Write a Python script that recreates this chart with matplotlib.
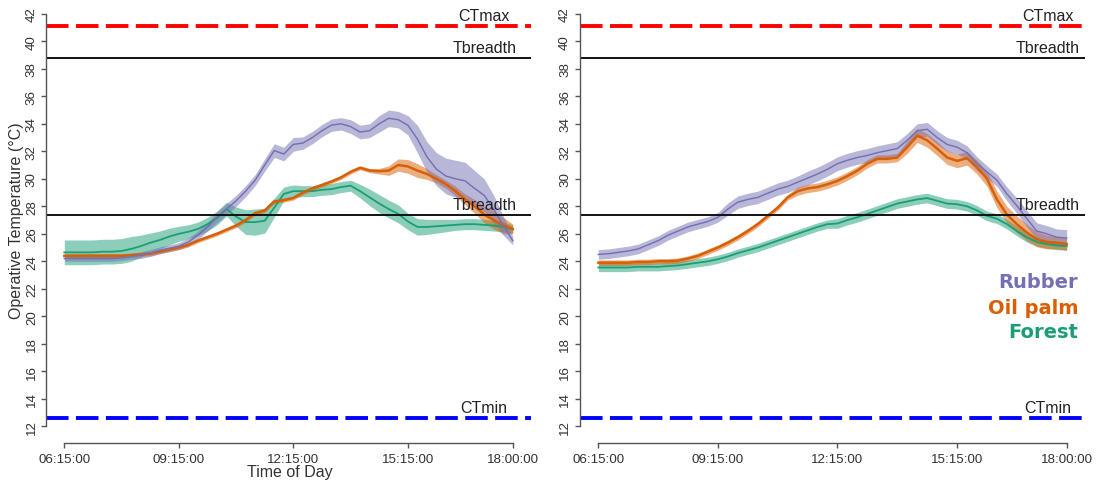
import numpy as np
import matplotlib
matplotlib.use("Agg")
import matplotlib.pyplot as plt

plt.rcParams['font.family'] = ['Liberation Sans', 'DejaVu Sans']

# time of day in hours, 15-minute steps from 06:15 to 18:00
hours = np.arange(6.25, 18.0001, 0.25)

# ---- left panel: mean operative temperature and ribbon half-width ----
left_rubber = [24.2, 24.2, 24.2, 24.2, 24.2, 24.2, 24.25, 24.35, 24.45, 24.6, 24.8, 24.95,
               25.1, 25.4, 25.9, 26.5, 27.2, 27.8, 28.4, 29.1, 29.9, 31.0, 32.05, 31.8,
               32.5, 32.6, 33.0, 33.5, 33.9, 34.0, 33.8, 33.4, 33.5, 34.0, 34.4, 34.3,
               33.9, 32.9, 31.6, 30.7, 30.2, 30.0, 29.85, 29.3, 28.8, 27.8, 26.6, 25.5]
left_rubber_se = [0.2, 0.2, 0.2, 0.2, 0.2, 0.2, 0.2, 0.2, 0.25, 0.25, 0.25, 0.25,
                  0.25, 0.3, 0.3, 0.3, 0.4, 0.4, 0.4, 0.4, 0.4, 0.45, 0.5, 0.5,
                  0.5, 0.45, 0.45, 0.45, 0.45, 0.45, 0.5, 0.5, 0.5, 0.6, 0.6, 0.6,
                  0.7, 1.0, 1.1, 1.2, 1.3, 1.35, 1.35, 1.3, 1.2, 1.0, 0.7, 0.3]
left_oil = [24.4, 24.4, 24.4, 24.4, 24.4, 24.4, 24.4, 24.45, 24.5, 24.55, 24.7, 24.85,
            25.0, 25.2, 25.5, 25.75, 26.0, 26.3, 26.6, 27.0, 27.5, 27.7, 28.35, 28.45,
            28.6, 29.0, 29.3, 29.55, 29.8, 30.1, 30.5, 30.8, 30.6, 30.55, 30.6, 31.0,
            30.9, 30.6, 30.35, 30.0, 29.6, 29.1, 28.5, 28.0, 27.4, 27.0, 26.6, 26.35]
left_oil_se = [0.15, 0.15, 0.15, 0.15, 0.15, 0.15, 0.15, 0.15, 0.15, 0.15, 0.15, 0.15,
               0.15, 0.15, 0.15, 0.15, 0.15, 0.15, 0.15, 0.15, 0.15, 0.15, 0.15, 0.15,
               0.15, 0.15, 0.15, 0.15, 0.15, 0.15, 0.15, 0.15, 0.15, 0.2, 0.35, 0.45,
               0.5, 0.5, 0.4, 0.3, 0.3, 0.35, 0.4, 0.5, 0.6, 0.65, 0.6, 0.35]
left_forest = [24.65, 24.65, 24.65, 24.65, 24.7, 24.7, 24.75, 24.9, 25.1, 25.35, 25.55, 25.8,
               26.0, 26.15, 26.35, 26.7, 27.15, 27.8, 27.25, 26.85, 26.85, 26.95, 27.9, 28.9,
               29.1, 29.1, 29.1, 29.2, 29.25, 29.4, 29.5, 29.1, 28.65, 28.2, 27.8, 27.45,
               26.9, 26.5, 26.5, 26.55, 26.6, 26.65, 26.7, 26.7, 26.65, 26.6, 26.5, 26.35]
left_forest_se = [0.9, 0.9, 0.9, 0.9, 0.9, 0.9, 0.9, 0.9, 0.8, 0.7, 0.65, 0.6,
                  0.55, 0.5, 0.5, 0.5, 0.5, 0.5, 0.7, 0.9, 0.95, 0.9, 0.7, 0.5,
                  0.45, 0.4, 0.4, 0.4, 0.4, 0.4, 0.4, 0.5, 0.6, 0.65, 0.65, 0.65,
                  0.6, 0.6, 0.55, 0.5, 0.45, 0.4, 0.4, 0.4, 0.4, 0.4, 0.35, 0.3]

# ---- right panel ----
right_rubber = [24.5, 24.55, 24.65, 24.75, 24.9, 25.2, 25.5, 25.9, 26.2, 26.5, 26.7, 26.9,
                27.2, 27.8, 28.3, 28.5, 28.65, 28.95, 29.25, 29.45, 29.75, 30.05, 30.35, 30.7,
                31.1, 31.35, 31.55, 31.7, 31.9, 32.05, 32.2, 32.8, 33.5, 33.6, 33.0, 32.5,
                32.3, 31.9, 31.1, 30.5, 29.9, 28.9, 28.05, 27.1, 26.2, 26.0, 25.75, 25.7]
right_rubber_se = [0.35, 0.35, 0.35, 0.35, 0.35, 0.35, 0.35, 0.35, 0.35, 0.35, 0.35, 0.35,
                   0.35, 0.45, 0.45, 0.45, 0.45, 0.45, 0.45, 0.45, 0.45, 0.5, 0.5, 0.5,
                   0.5, 0.5, 0.5, 0.5, 0.5, 0.5, 0.5, 0.5, 0.5, 0.5, 0.5, 0.5,
                   0.5, 0.5, 0.5, 0.45, 0.45, 0.5, 0.55, 0.6, 0.6, 0.6, 0.6, 0.6]
right_oil = [23.9, 23.9, 23.9, 23.9, 23.95, 23.95, 24.0, 24.0, 24.05, 24.2, 24.4, 24.7,
             25.0, 25.35, 25.75, 26.2, 26.7, 27.3, 27.9, 28.65, 29.1, 29.3, 29.4, 29.6,
             29.85, 30.2, 30.6, 31.1, 31.45, 31.45, 31.55, 32.3, 33.15, 32.8, 32.2, 31.55,
             31.3, 31.5, 30.85, 30.0, 28.5, 27.4, 26.7, 26.1, 25.6, 25.4, 25.35, 25.25]
right_oil_se = [0.2, 0.2, 0.2, 0.2, 0.2, 0.2, 0.2, 0.2, 0.2, 0.2, 0.2, 0.2,
                0.2, 0.2, 0.2, 0.2, 0.2, 0.2, 0.2, 0.2, 0.3, 0.3, 0.3, 0.3,
                0.3, 0.3, 0.3, 0.3, 0.3, 0.3, 0.3, 0.45, 0.5, 0.5, 0.5, 0.5,
                0.5, 0.5, 0.5, 0.55, 0.6, 0.6, 0.6, 0.6, 0.55, 0.5, 0.45, 0.45]
right_forest = [23.55, 23.55, 23.55, 23.55, 23.6, 23.6, 23.6, 23.65, 23.7, 23.8, 23.9, 24.0,
                24.15, 24.35, 24.6, 24.8, 25.0, 25.25, 25.5, 25.75, 26.0, 26.25, 26.5, 26.7,
                26.75, 27.0, 27.2, 27.45, 27.7, 27.95, 28.2, 28.35, 28.5, 28.6, 28.4, 28.2,
                28.15, 28.0, 27.7, 27.3, 27.1, 26.7, 26.2, 25.75, 25.4, 25.25, 25.15, 25.1]
right_forest_se = [0.3, 0.3, 0.3, 0.3, 0.3, 0.3, 0.3, 0.3, 0.3, 0.3, 0.3, 0.3,
                   0.3, 0.3, 0.3, 0.3, 0.3, 0.3, 0.3, 0.3, 0.3, 0.3, 0.3, 0.3,
                   0.35, 0.35, 0.35, 0.35, 0.35, 0.35, 0.35, 0.35, 0.35, 0.35, 0.35, 0.35,
                   0.35, 0.35, 0.35, 0.35, 0.35, 0.35, 0.35, 0.35, 0.3, 0.3, 0.3, 0.3]

# thermal limits
ct_max = 41.1
ct_min = 12.6
tbreadth_hi = 38.75
tbreadth_lo = 27.35

time_ticks = [6.25, 9.25, 12.25, 15.25, 18.0]
time_labels = ['06:15:00', '09:15:00', '12:15:00', '15:15:00', '18:00:00']

col_rubber = '#7570B3'
col_oil = '#D95F02'
col_forest = '#1B9E77'
axis_col = '#555555'
text_col = '#333333'

W, H = 1099, 481
fig = plt.figure(figsize=(W / 100, H / 100), dpi=100)

xpad = 0.04 * (18.0 - 6.25)
ylim = (12 - 1.2, 42 + 1.2)


def panel(ax, series, label_x):
    for mean, se, col, lw in series:
        m = np.asarray(mean)
        s = np.asarray(se)
        ax.fill_between(hours, m - s, m + s, color=col, alpha=0.5, lw=0)
    for mean, se, col, lw in series:
        ax.plot(hours, mean, color=col, lw=lw, solid_joinstyle='round')

    ax.axhline(ct_max, color='#ff0000', lw=2.8, dashes=(5.8, 1.9))
    ax.axhline(ct_min, color='#0000ff', lw=2.8, dashes=(5.8, 1.9))
    ax.axhline(tbreadth_hi, color='#111111', lw=1.4)
    ax.axhline(tbreadth_lo, color='#111111', lw=1.4)

    for yv, txt in [(ct_max, 'CTmax'), (tbreadth_hi, 'Tbreadth'),
                    (tbreadth_lo, 'Tbreadth'), (ct_min, 'CTmin')]:
        ax.annotate(txt, (label_x, yv), xytext=(0, 7.9), textcoords='offset points',
                    ha='center', va='center', fontsize=11.5, color='#222222')

    ax.set_xlim(6.25 - xpad, 18.0 + xpad)
    ax.set_ylim(*ylim)
    ax.set_yticks(np.arange(12, 43, 2))
    ax.set_xticks(time_ticks)
    ax.set_xticklabels(time_labels)
    for lab in ax.get_yticklabels():
        lab.set_rotation(90)
        lab.set_va('center')
    ax.tick_params(direction='out', length=3.6, width=1.0, color=axis_col,
                   labelsize=9.6, labelcolor=text_col, pad=2.5)
    ax.tick_params(axis='x', pad=4)
    for sp in ['top', 'right']:
        ax.spines[sp].set_visible(False)
    for sp in ['left', 'bottom']:
        ax.spines[sp].set_color(axis_col)
        ax.spines[sp].set_linewidth(1.0)
    ax.spines['left'].set_bounds(12, 42)
    ax.spines['bottom'].set_bounds(6.25, 18.0)


bottom = (H - 443.8) / H
height = 445.5 / H

ax1 = fig.add_axes([46.4 / W, bottom, (530.7 - 46.4) / W, height])
panel(ax1, [(left_forest, left_forest_se, col_forest, 1.3),
            (left_oil, left_oil_se, col_oil, 1.8),
            (left_rubber, left_rubber_se, col_rubber, 1.05)], 17.25)

ax2 = fig.add_axes([579.6 / W, bottom, (1085.4 - 579.6) / W, height])
panel(ax2, [(right_forest, right_forest_se, col_forest, 1.3),
            (right_oil, right_oil_se, col_oil, 1.8),
            (right_rubber, right_rubber_se, col_rubber, 1.05)], 17.53)

fig.text(17 / W, 1 - 221 / H, 'Operative Temperature (\u00b0C)', rotation=90,
         ha='center', va='center', fontsize=11.5, color=text_col)
fig.text(289.5 / W, 1 - 473 / H, 'Time of Day', ha='center', va='center',
         fontsize=11.5, color=text_col)

for name, col, yp in [('Rubber', col_rubber, 283), ('Oil palm', col_oil, 308),
                      ('Forest', col_forest, 332)]:
    fig.text(1078 / W, 1 - yp / H, name, ha='right', va='center', fontsize=14,
             fontweight='bold', family='DejaVu Sans', color=col)

fig.savefig('out.png', dpi=100)
